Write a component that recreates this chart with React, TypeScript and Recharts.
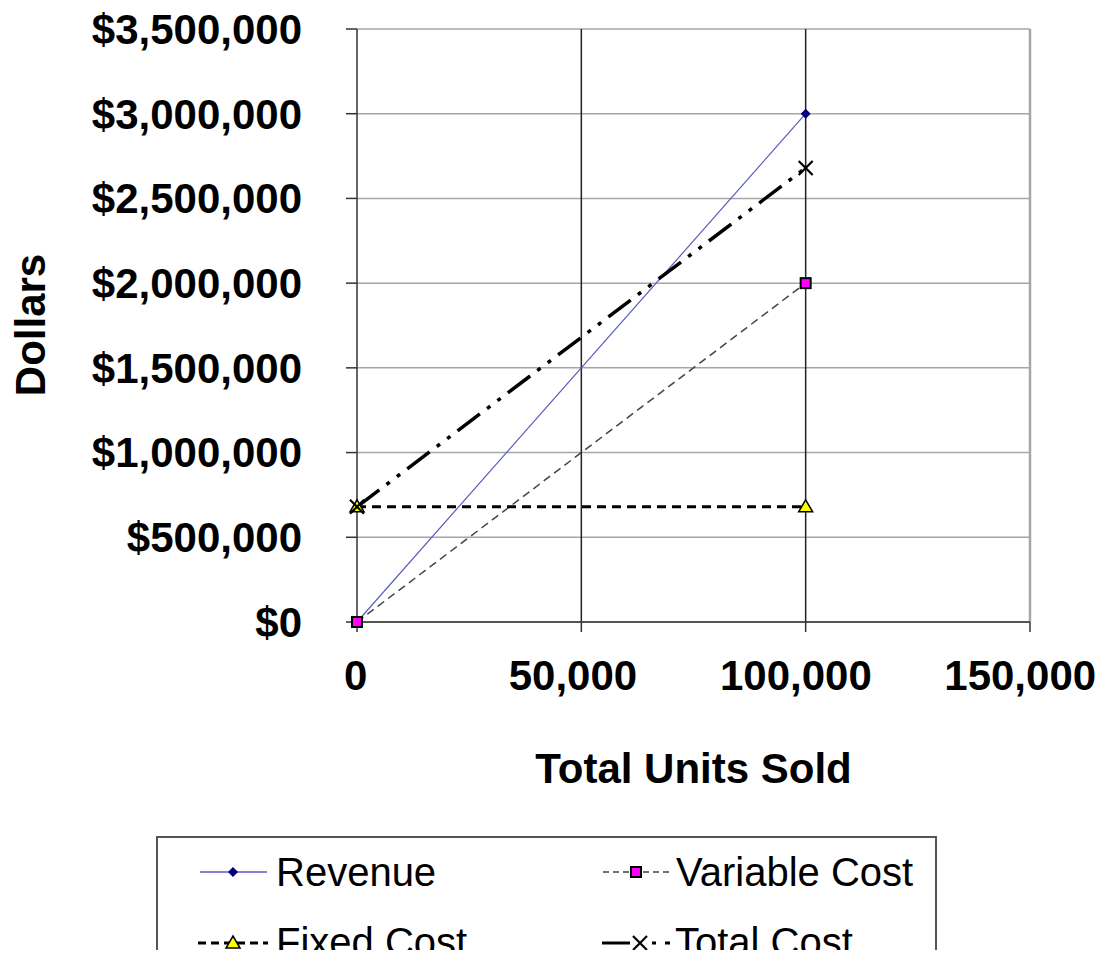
import React from "react";
import {
  LineChart,
  Line,
  CartesianGrid,
  XAxis,
  YAxis,
  ReferenceLine,
  Legend,
} from "recharts";

const units = [0, 100000];
const revenue = [0, 3000000];
const variableCost = [0, 2000000];
const fixedCost = [680000, 680000];
const totalCost = [680000, 2680000];

const xTicks = [0, 50000, 100000, 150000];
const yTicks = [0, 500000, 1000000, 1500000, 2000000, 2500000, 3000000, 3500000];

const data = units.map((u, i) => ({
  units: u,
  revenue: revenue[i],
  variableCost: variableCost[i],
  fixedCost: fixedCost[i],
  totalCost: totalCost[i],
}));

const FONT = "'Liberation Sans', Arial, sans-serif";

const REV_COLOR = "#5a5abf";
const VAR_COLOR = "#444";
const TOTAL_DASH = "28 9 4 9 4 9";

const Diamond = ({ cx, cy }: any) => (
  <path d={`M${cx},${cy - 5} L${cx + 5},${cy} L${cx},${cy + 5} L${cx - 5},${cy} Z`} fill="#000080" />
);

const Square = ({ cx, cy }: any) => (
  <rect x={cx - 5} y={cy - 5} width={10} height={10} fill="#ff00ff" stroke="#000" strokeWidth={2} />
);

const Triangle = ({ cx, cy }: any) => (
  <path d={`M${cx},${cy - 7} L${cx + 7},${cy + 5} L${cx - 7},${cy + 5} Z`} fill="#ffff00" stroke="#000" strokeWidth={1.5} />
);

const Cross = ({ cx, cy }: any) => (
  <g stroke="#000" strokeWidth={2.2}>
    <line x1={cx - 7} y1={cy - 7} x2={cx + 7} y2={cy + 7} />
    <line x1={cx - 7} y1={cy + 7} x2={cx + 7} y2={cy - 7} />
  </g>
);

const XTick = ({ x, y, payload }: any) => {
  const label = Number(payload.value).toLocaleString("en-US");
  return (
    <text
      x={x - label.length * 1.4}
      y={y}
      dy="0.71em"
      textAnchor="middle"
      fontFamily={FONT}
      fontSize={42}
      fontWeight={700}
      fill="#000"
    >
      {label}
    </text>
  );
};

const LegendBox = () => {
  const txt = { fontFamily: FONT, fontSize: 40, fill: "#000" };
  return (
    <svg width={781} height={122} style={{ display: "block" }}>
      <rect x={1} y={1} width={779} height={160} fill="#fff" stroke="#555" strokeWidth={2} />
      {/* Revenue */}
      <line x1={44} y1={36} x2={111} y2={36} stroke={REV_COLOR} strokeWidth={1.5} />
      <Diamond cx={77} cy={36} />
      <text x={120} y={50} {...txt}>Revenue</text>
      {/* Variable Cost */}
      <line x1={447} y1={36} x2={514} y2={36} stroke={VAR_COLOR} strokeWidth={1.3} strokeDasharray="6 4" />
      <Square cx={480} cy={36} />
      <text x={520} y={50} {...txt}>Variable Cost</text>
      {/* Fixed Cost */}
      <line x1={42} y1={107} x2={112} y2={107} stroke="#000" strokeWidth={3} strokeDasharray="8 5" />
      <Triangle cx={77} cy={107} />
      <text x={120} y={120} {...txt}>Fixed Cost</text>
      {/* Total Cost */}
      <line x1={446} y1={107} x2={514} y2={107} stroke="#000" strokeWidth={3} strokeDasharray={TOTAL_DASH} />
      <rect x={476} y={99} width={16} height={16} fill="#fff" />
      <Cross cx={484} cy={107} />
      <text x={519} y={120} {...txt}>Total Cost</text>
    </svg>
  );
};

const tickStyle = { fontFamily: FONT, fontSize: 42, fontWeight: 700, fill: "#000" };

const App: React.FC = () => {
  return (
    <div style={{ width: 1098, height: 950, marginBottom: -8, position: "relative" }}>
      <LineChart
        width={1098}
        height={950}
        data={data}
        margin={{ top: 21, right: 76, left: 0, bottom: 186 }}
      >
        <CartesianGrid vertical={false} stroke="#a6a6a6" strokeWidth={1.5} />
        {xTicks.slice(1).map((t, i) => (
          <ReferenceLine
            key={t}
            x={t}
            stroke={i === xTicks.length - 2 ? "#a6a6a6" : "#222"}
            strokeWidth={i === xTicks.length - 2 ? 2.5 : 1.5}
          />
        ))}
        <XAxis
          dataKey="units"
          type="number"
          domain={[0, 150000]}
          ticks={xTicks}
          tick={<XTick />}
          tickSize={10}
          tickMargin={28}
          height={150}
          stroke="#333"
          strokeWidth={1.5}
          interval={0}
          label={{
            content: ({ viewBox }: any) => (
              <text
                x={viewBox.x + viewBox.width / 2}
                y={775}
                textAnchor="middle"
                fontFamily={FONT}
                fontSize={42}
                fontWeight={700}
                fill="#000"
              >
                Total Units Sold
              </text>
            ),
          }}
        />
        <YAxis
          type="number"
          domain={[0, 3500000]}
          ticks={yTicks}
          tickFormatter={(v: number) => "$" + v.toLocaleString("en-US")}
          tick={tickStyle}
          tickSize={11}
          tickMargin={44}
          width={349}
          stroke="#333"
          strokeWidth={1.5}
          interval={0}
          label={{
            content: () => (
              <text
                x={37}
                y={317}
                transform="rotate(-90, 37, 317)"
                textAnchor="middle"
                fontFamily={FONT}
                fontSize={42}
                fontWeight={700}
                fill="#000"
              >
                Dollars
              </text>
            ),
          }}
        />
        <Line
          dataKey="revenue"
          name="Revenue"
          stroke={REV_COLOR}
          strokeWidth={1.2}
          dot={<Diamond />}
          isAnimationActive={false}
        />
        <Line
          dataKey="variableCost"
          name="Variable Cost"
          stroke={VAR_COLOR}
          strokeWidth={1.5}
          strokeDasharray="8 5"
          dot={<Square />}
          isAnimationActive={false}
        />
        <Line
          dataKey="fixedCost"
          name="Fixed Cost"
          stroke="#000"
          strokeWidth={3}
          strokeDasharray="9 6"
          dot={<Triangle />}
          isAnimationActive={false}
        />
        <Line
          dataKey="totalCost"
          name="Total Cost"
          stroke="#000"
          strokeWidth={3.5}
          strokeDasharray={TOTAL_DASH}
          dot={<Cross />}
          isAnimationActive={false}
        />
        <Legend
          layout="horizontal"
          verticalAlign="middle"
          align="center"
          content={() => <LegendBox />}
          wrapperStyle={{ position: "absolute", left: 148, top: 828, width: 781, height: 122 }}
        />
      </LineChart>
    </div>
  );
};

export default App;
